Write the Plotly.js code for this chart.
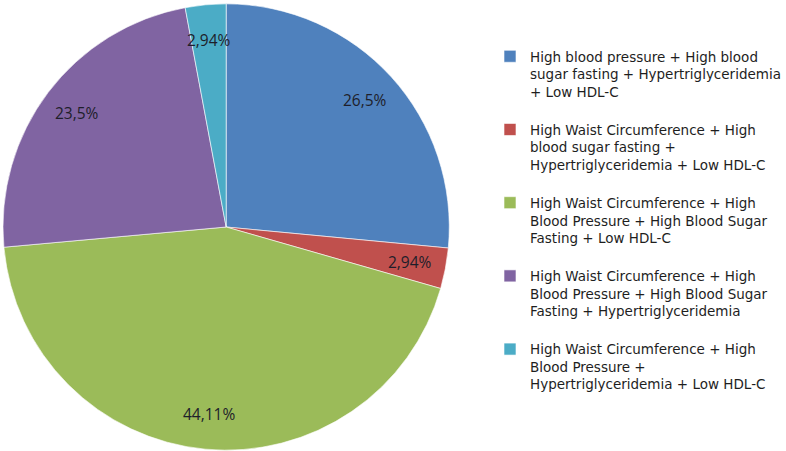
<!DOCTYPE html>
<html>
<head>
<meta charset="utf-8">
<script src="https://cdn.plot.ly/plotly-3.0.1.min.js"></script>
<style>
  html, body { margin: 0; padding: 0; background: #fff; }
  #chart { width: 786px; height: 451px; }
</style>
</head>
<body>
<div id="chart"></div>
<script>
// dados
var categorias = [
  'High blood pressure + High blood<br>sugar fasting + Hypertriglyceridemia<br>+ Low HDL-C',
  'High Waist Circumference + High<br>blood sugar fasting +<br>Hypertriglyceridemia + Low HDL-C',
  'High Waist Circumference + High<br>Blood Pressure + High Blood Sugar<br>Fasting + Low HDL-C',
  'High Waist Circumference + High<br>Blood Pressure + High Blood Sugar<br>Fasting + Hypertriglyceridemia',
  'High Waist Circumference + High<br>Blood Pressure +<br>Hypertriglyceridemia + Low HDL-C'
]
var valores = [26.5, 2.94, 44.11, 23.5, 2.94]
var rotulos = ['26,5%', '2,94%', '44,11%', '23,5%', '2,94%']
var cores = ['#4F81BD', '#C0504D', '#9BBB59', '#8064A2', '#4BACC6']

var W = 786, H = 451
var margem = { l: 3, r: 0, t: 3, b: 0 }
var plotW = W - margem.l - margem.r
var plotH = H - margem.t - margem.b
var raio = plotH / 2
var domX = [0, plotH / plotW]

// rotulos no angulo medio de cada fatia, perto da borda
var total = valores.reduce(function (a, b) { return a + b }, 0)
var anotacoes = []
var acumulado = 0
var cx = raio, cy = raio
for (var i = 0; i < valores.length; i++) {
  var meio = (acumulado + valores[i] / 2) / total * 2 * Math.PI
  acumulado += valores[i]
  var r = raio * 0.84
  var px = cx + r * Math.sin(meio)
  var py = cy - r * Math.cos(meio)
  anotacoes.push({
    x: px / plotW,
    y: 1 - py / plotH,
    xref: 'paper', yref: 'paper',
    xanchor: 'center', yanchor: 'middle',
    text: rotulos[i],
    showarrow: false,
    font: { family: 'Open Sans, sans-serif', size: 15.5, color: '#1e1e2a' }
  })
}

// linha vazia no fim de cada item para abrir espaco entre eles
var legendas = categorias.map(function (c) { return c + '<br> ' })

var dados = [{
  type: 'pie',
  labels: legendas,
  values: valores,
  sort: false,
  direction: 'clockwise',
  rotation: 0,
  textinfo: 'none',
  hoverinfo: 'label+percent',
  marker: { colors: cores, line: { color: '#ffffff', width: 0.6 } },
  domain: { x: domX, y: [0, 1] }
}]

var layout = {
  width: W,
  height: H,
  margin: margem,
  paper_bgcolor: '#ffffff',
  showlegend: true,
  annotations: anotacoes,
  legend: {
    x: (492 - margem.l) / plotW,
    y: 1 - (41 - margem.t) / plotH,
    xanchor: 'left',
    yanchor: 'top',
    valign: 'top',
    font: { family: 'DejaVu Sans, sans-serif', size: 13.5, color: '#1e1e1e' },
    itemwidth: 30
  }
}

Plotly.newPlot('chart', dados, layout, { displayModeBar: false, staticPlot: true })
</script>
</body>
</html>
